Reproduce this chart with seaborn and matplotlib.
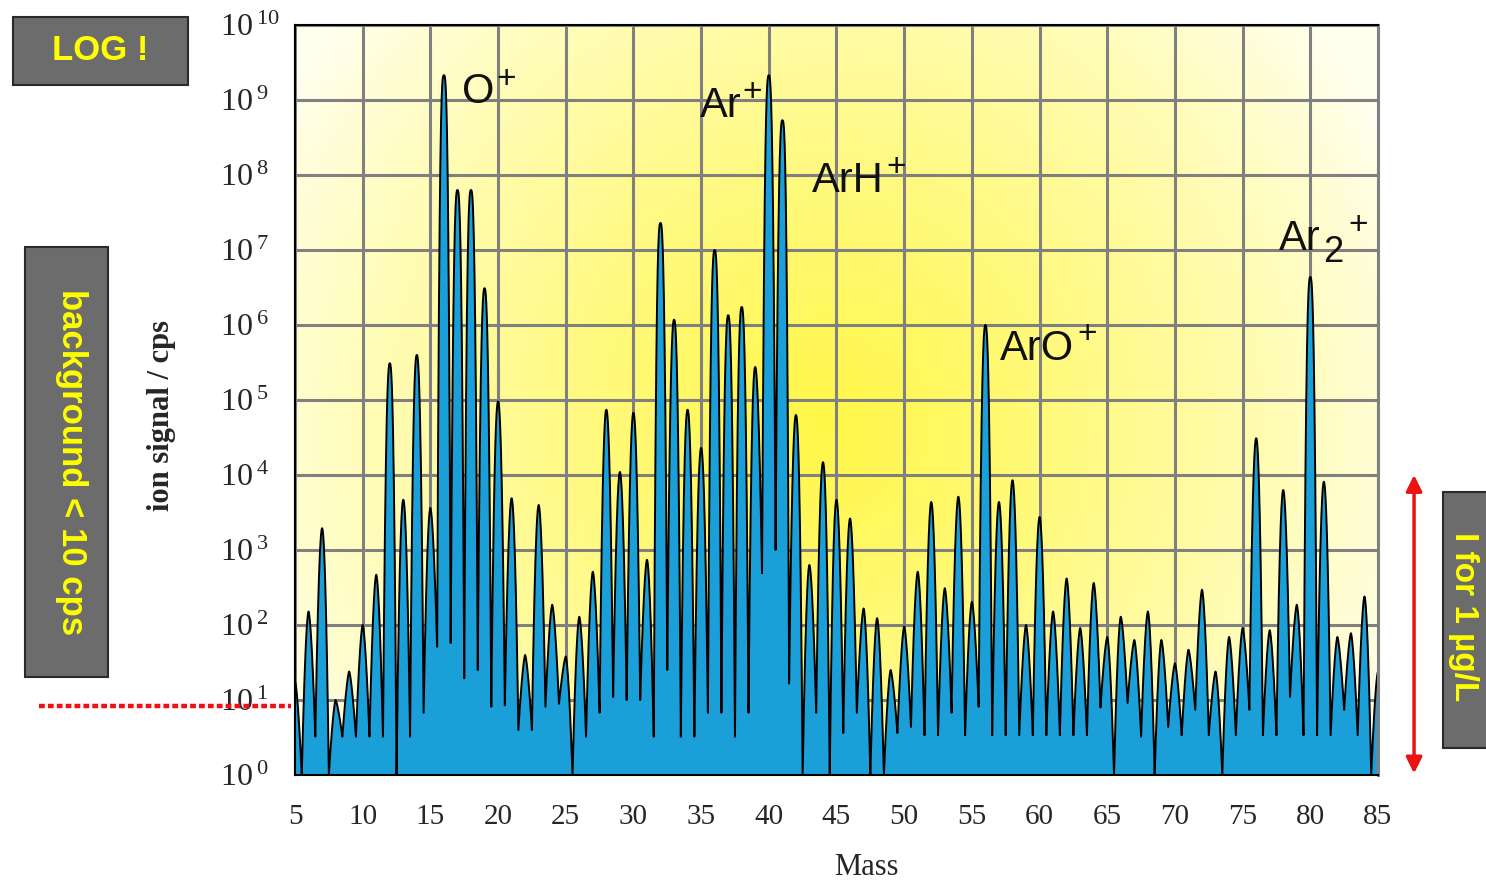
import numpy as np
import matplotlib
matplotlib.use("Agg")
import matplotlib.pyplot as plt
import seaborn as sns
from matplotlib.patches import Rectangle
from matplotlib.ticker import MultipleLocator, LogLocator, FuncFormatter

# ---------------- data ----------------
masses = list(range(5, 86))
# log10 of the peak maximum (cps) at each integer mass
peak_log10 = [
    1.25, 2.18, 3.29, 1.00, 1.38, 2.00, 2.67, 5.49, 3.67, 5.60,   # 5-14
    3.56, 9.33, 7.80, 7.80, 6.49, 4.98, 3.69, 1.60, 3.60, 2.27,   # 15-24
    1.58, 2.11, 2.71, 4.87, 4.04, 4.83, 2.87, 7.36, 6.07, 4.87,   # 25-34
    4.36, 7.00, 6.13, 6.24, 5.44, 9.33, 8.73, 4.80, 2.80, 4.17,   # 35-44
    3.67, 3.42, 2.22, 2.09, 1.40, 1.98, 2.71, 3.64, 2.49, 3.71,   # 45-54
    2.31, 6.00, 3.64, 3.93, 2.00, 3.44, 2.18, 2.62, 1.96, 2.56,   # 55-64
    1.84, 2.11, 1.80, 2.18, 1.80, 1.49, 1.67, 2.47, 1.38, 1.84,   # 65-74
    1.96, 4.49, 1.93, 3.80, 2.27, 6.64, 3.91, 1.84, 1.89, 2.38,   # 75-84
    1.38]                                                          # 85
# log10 of the minimum between mass m and m+1
valley_log10 = [
    0.00, 0.51, 0.00, 0.51, 0.51, 0.51, 0.51, 0.00, 0.51, 0.83,   # 5-15
    1.71, 1.76, 1.29, 1.40, 0.91, 0.93, 0.60, 0.60, 0.91, 0.95,   # 15-25
    0.00, 0.51, 0.83, 1.04, 1.00, 1.00, 0.51, 1.40, 0.51, 0.51,   # 25-35
    0.83, 0.83, 0.51, 0.83, 2.69, 3.00, 1.22, 0.00, 0.83, 0.00,   # 35-45
    0.56, 0.83, 0.00, 0.00, 0.56, 0.64, 0.53, 0.53, 0.83, 0.53,   # 45-55
    0.91, 0.53, 0.53, 0.53, 0.53, 0.53, 0.53, 0.53, 0.53, 0.90,   # 55-65
    0.00, 0.96, 0.51, 0.00, 0.64, 0.53, 0.87, 0.53, 0.00, 0.53,   # 65-75
    0.87, 0.53, 0.53, 1.04, 0.53, 0.53, 0.53, 0.87, 0.53, 0.00]   # 75-85

xticks = list(range(5, 90, 5))
ion_names = ["O", "Ar", "ArH", "ArO", "Ar"]

# ---------------- build the spectrum trace from peaks/valleys ----------------
pk = np.array(peak_log10)
vl = np.array(valley_log10)
m = np.array(masses, dtype=float)
xs = np.linspace(5, 85, 8001)
idx = np.clip(np.rint(xs - 5).astype(int), 0, len(m) - 1)
dx = xs - m[idx]
vidx = np.clip(np.where(dx >= 0, idx, idx - 1), 0, len(vl) - 1)
Lp = pk[idx]
Lv = vl[vidx]
t = np.clip(np.abs(dx) / 0.5, 0, 1)
p = 1.25 + 0.22 * np.abs(Lp - Lv)
L = Lv + (Lp - Lv) * (1 - t ** p)
ys = 10 ** L

# ---------------- figure ----------------
sns.set_style("white")
plt.rcParams["font.family"] = ["Liberation Serif", "DejaVu Serif"]
plt.rcParams["mathtext.fontset"] = "custom"
plt.rcParams["mathtext.rm"] = "Liberation Serif"
plt.rcParams["mathtext.sf"] = "Liberation Sans"
plt.rcParams["mathtext.it"] = "Liberation Serif:italic"
plt.rcParams["mathtext.bf"] = "Liberation Serif:bold"

W, H = 1486, 881
fig = plt.figure(figsize=(W / 100, H / 100), dpi=100)
fig.patch.set_facecolor("white")
ax = fig.add_axes([295 / W, 1 - 775 / H, 1083 / W, 750 / H])
ax.set_yscale("log")

# yellow radial background
gx = np.linspace(0, 1, 400)
gy = np.linspace(0, 1, 300)
GX, GY = np.meshgrid(gx, gy)
r = np.sqrt(((GX - 0.49) / 0.58) ** 2 + ((GY - 0.47) / 0.85) ** 2)
f = np.clip(1 - r, 0, 1) ** 0.85
edge = np.array([255, 255, 240]) / 255
center = np.array([255, 247, 70]) / 255
img = edge * (1 - f[..., None]) + center * f[..., None]
ax.imshow(img, extent=[0, 1, 0, 1], transform=ax.transAxes, origin="lower",
          aspect="auto", zorder=0, interpolation="bilinear")

ax.fill_between(xs, 1, ys, color="#1b9fd9", lw=0, zorder=2)
sns.lineplot(x=xs, y=ys, ax=ax, color="black", lw=1.4, estimator=None,
             sort=False, zorder=3)

ax.set_xlim(5, 85)
ax.set_ylim(1, 1e10)
ax.set_axisbelow(True)
ax.set_xticks(xticks)
ax.xaxis.set_minor_locator(MultipleLocator(1))
ax.yaxis.set_major_locator(LogLocator(base=10, numticks=20))
ax.yaxis.set_minor_locator(LogLocator(base=10, subs=np.arange(2, 10), numticks=20))
ax.yaxis.set_major_formatter(FuncFormatter(lambda v, pos: r"$10^{\;%d}$" % int(round(np.log10(v)))))
ax.grid(True, which="major", color="#808080", lw=2.2, zorder=0.5)

ax.tick_params(axis="x", which="major", direction="out", length=8, width=1.3,
               labelsize=21, pad=13, color="black")
ax.tick_params(axis="x", which="minor", direction="out", length=5, width=1.1, color="black")
ax.tick_params(axis="y", which="major", direction="out", length=7, width=1.3,
               labelsize=23, pad=47, color="black")
ax.tick_params(axis="y", which="minor", direction="out", length=4, width=1.0, color="black")
plt.setp(ax.get_yticklabels(), ha="left")

for s in ["left", "bottom", "top"]:
    ax.spines[s].set_color("black")
    ax.spines[s].set_linewidth(1.5)
ax.spines["right"].set_color("#808080")
ax.spines["right"].set_linewidth(2.2)
for s in ax.spines.values():
    s.set_zorder(4)

ax.set_xlabel("Mass", fontsize=22)
ax.xaxis.set_label_coords((866 - 295) / 1083, (775 - 853) / 750)
ax.set_ylabel("ion signal / cps", fontsize=22, fontweight="bold")
ax.yaxis.set_label_coords((176 - 295) / 1083, 0.479)

# ion labels (base text + separate charge / index glyphs)
def px2data(px, py):
    return 5 + (px - 295) / 13.54, 10 ** ((775 - py) / 75)

ion_base_px = [(462, 103), (700, 117), (812, 192), (1000, 360), (1279, 250)]
for name, (bx, by) in zip(ion_names, ion_base_px):
    xm, yv = px2data(bx, by)
    ax.text(xm, yv, name, fontsize=30, family="Liberation Sans", color="#111111",
            ha="left", va="baseline", zorder=5)
plus_px = [(506, 80), (752, 93), (896, 168), (1087, 335), (1358, 226)]
for (cx, cy) in plus_px:
    xm, yv = px2data(cx, cy)
    ax.text(xm, yv, "+", fontsize=24, family="Liberation Sans", color="#111111",
            ha="center", va="center", zorder=5)
xm, yv = px2data(1333, 253)
ax.text(xm, yv, "2", fontsize=26, family="Liberation Sans", color="#111111",
        ha="center", va="center", zorder=5)

# red dotted background line and red double arrow
ax.plot([-0.236, -0.004], [8.3, 8.3], transform=ax.get_yaxis_transform(),
        color="#ee1111", lw=3.2, ls=(0, (1.3, 0.7)), clip_on=False, zorder=6)
ax.annotate("", xy=(1.0333, 1e4), xytext=(1.0333, 1.05),
            xycoords=("axes fraction", "data"), textcoords=("axes fraction", "data"),
            arrowprops=dict(arrowstyle="<|-|>", color="#ee1111", lw=2.5,
                            mutation_scale=24, shrinkA=0, shrinkB=0),
            annotation_clip=False)

# grey annotation boxes
def box(x0, y0, x1, y1):
    fig.patches.append(Rectangle((x0 / W, 1 - y1 / H), (x1 - x0) / W, (y1 - y0) / H,
                                 transform=fig.transFigure, facecolor="#6c6c6c",
                                 edgecolor="#2a2a2a", lw=1.5, zorder=1))

box(13, 17, 188, 85)
box(25, 247, 108, 677)
box(1443, 492, 1495, 748)
fig.text(100 / W, 1 - 50 / H, "LOG !", color="#ffff00", fontsize=25, fontweight="bold",
         family="Liberation Sans", ha="center", va="center")
fig.text(71 / W, 1 - 462 / H, "background < 10 cps", color="#ffff00", fontsize=25,
         fontweight="bold", family="Liberation Sans", ha="center", va="center", rotation=270)
fig.text(1464 / W, 1 - 617 / H, "I for 1 µg/L", color="#ffff00", fontsize=24,
         fontweight="bold", family="Liberation Sans", ha="center", va="center", rotation=270)

fig.savefig("out.png", dpi=100)
